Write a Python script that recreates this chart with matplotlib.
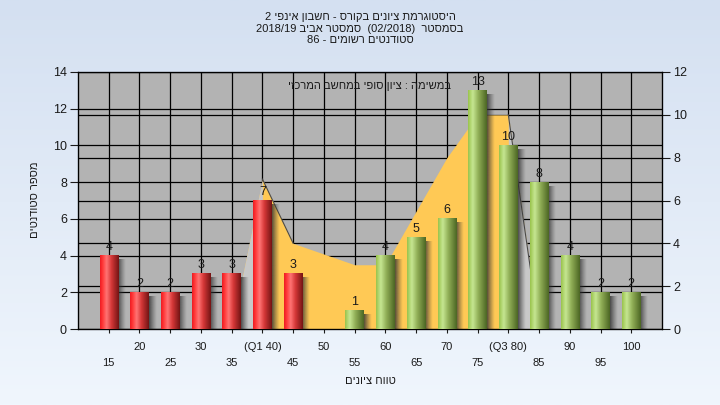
import re
import numpy as np
import matplotlib
matplotlib.use('Agg')
import matplotlib.pyplot as plt
from matplotlib.colors import to_rgb

plt.rcParams['font.family'] = ['Liberation Sans', 'DejaVu Sans']


def heb(s):  # logical hebrew -> visual order for matplotlib
    r = s[::-1]
    r = re.sub(r'[0-9A-Za-z/.]+', lambda m: m.group(0)[::-1], r)
    return r.translate(str.maketrans('()', ')('))


# data
grades = [15, 20, 25, 30, 35, 40, 45, 50, 55, 60, 65, 70, 75, 80, 85, 90, 95, 100]
tick_labels = ['15', '20', '25', '30', '35', '(Q1 40)', '45', '50', '55', '60',
               '65', '70', '75', '(Q3 80)', '85', '90', '95', '100']
counts = [4, 2, 2, 3, 3, 7, 3, 0, 1, 4, 5, 6, 13, 10, 8, 4, 2, 2]
final_vals = [0, 0, 0, 0, 0, 7, 4, 3.5, 3, 3, 5.5, 8, 10, 10, 0, 0, 0, 0]

title_lines = ['היסטוגרמת ציונים בקורס - חשבון אינפי 2',
               'בסמסטר  (02/2018)  סמסטר אביב 2018/19',
               'סטודנטים רשומים - 86']
legend_text = 'במשימה : ציון סופי במחשב המרכזי'
x_title = 'טווח ציונים'
y_title = 'מספר סטודנטים'


def gradient(stops, n=64):
    pos = [p for p, c in stops]
    cols = np.array([to_rgb(c) for p, c in stops])
    t = np.linspace(0, 1, n)
    img = np.stack([np.interp(t, pos, cols[:, k]) for k in range(3)], axis=-1)
    return img[np.newaxis, :, :]


red_grad = gradient([(0, '#EC1C24'), (0.12, '#FF3434'), (0.35, '#FF7474'),
                     (0.6, '#D63838'), (1, '#741414')])
green_grad = gradient([(0, '#9AC44C'), (0.25, '#C6E692'), (0.55, '#90AE56'),
                       (1, '#4C6624')])
shadow = np.zeros((1, 32, 4))
shadow[0, :, :3] = 0.2
shadow[0, :, 3] = np.linspace(0.85, 0, 32) ** 1.2

fig = plt.figure(figsize=(7.2, 4.05), dpi=100)

bg = fig.add_axes([0, 0, 1, 1], zorder=-10)
top_c, bot_c = np.array(to_rgb('#D4E0F1')), np.array(to_rgb('#F0F6FD'))
bg.imshow(top_c + np.linspace(0, 1, 200)[:, None, None] * (bot_c - top_c),
          aspect='auto', extent=[0, 1, 0, 1])
bg.axis('off')

ax = fig.add_axes([78 / 720, 1 - 329 / 405, 584 / 720, 257 / 405])
ax2 = ax.twinx()
ax.set_zorder(2)
ax2.set_zorder(1)
ax.patch.set_visible(False)
ax2.patch.set_visible(True)
ax2.patch.set_facecolor('#B3B3B3')

x = np.arange(len(grades))

# final grade area (right axis)
ax2.fill_between(x, 0, final_vals, color='#FFC955', lw=0, zorder=1)
ax2.fill_between(x[4:6], 0, final_vals[4:6], color='#C8C8C8', lw=0, zorder=1.1)
ax2.fill_between(x[13:15], 0, final_vals[13:15], color='#C8C8C8', lw=0, zorder=1.1)
ax2.plot(x[5:7], final_vals[5:7], color='#4A4A4A', lw=0.8, zorder=1.2)
ax2.plot(x[13:15], final_vals[13:15], color='#4A4A4A', lw=0.8, zorder=1.2)

# grid behind the area
ax2.set_axisbelow(True)
ax2.set_ylim(0, 12)
ax2.set_yticks(range(0, 13, 2))
ax2.set_yticks(np.arange(0, 15, 2) * 12 / 14, minor=True)
ax2.grid(True, axis='y', which='both', color='black', lw=0.9)
ax2.xaxis.set_visible(True)
ax2.grid(True, axis='x', which='major', color='black', lw=0.9)
ax2.tick_params(axis='x', which='both', bottom=False, top=False,
                labelbottom=False, labeltop=False)
ax2.tick_params(axis='y', which='minor', length=0)
ax2.tick_params(axis='y', which='major', direction='out', length=6, width=0.8,
                labelsize=9, pad=2, colors='#1A1A1A')

# bars
w = 0.6
for xi, c, g in zip(x, counts, grades):
    if c == 0:
        continue
    ax.imshow(shadow, extent=(xi + w / 2, xi + w / 2 + 0.26, 0, c - 0.22),
              aspect='auto', zorder=2.5, interpolation='bilinear')
    ax.imshow(red_grad if g < 50 else green_grad,
              extent=(xi - w / 2, xi + w / 2, 0, c), aspect='auto',
              zorder=3, interpolation='bilinear')
    ax.annotate(str(c), (xi, c), xytext=(0, 4), textcoords='offset points',
                ha='center', va='baseline', fontsize=9, color='#1A1A1A', zorder=4)

ax.set_xlim(-1, len(grades))
ax.set_ylim(0, 14)
ax.set_yticks(range(0, 15, 2))
ax.tick_params(axis='y', direction='out', length=6, width=0.8, labelsize=9,
               pad=2, colors='#1A1A1A')

ax.xaxis.remove_overlapping_locs = False
ax.set_xticks(x, [lab if i % 2 else '' for i, lab in enumerate(tick_labels)])
ax.set_xticks(x[0::2], tick_labels[0::2], minor=True)
ax.tick_params(axis='x', which='major', direction='out', length=3, width=0.8,
               labelsize=8, pad=6, colors='#1A1A1A')
ax.tick_params(axis='x', which='minor', length=0, labelsize=8, pad=21,
               colors='#1A1A1A')

for sp in ax.spines.values():
    sp.set_color('black')
    sp.set_linewidth(0.9)

ax.text(0.5, 0.945, heb(legend_text), transform=ax.transAxes, ha='center',
        va='center', fontsize=8, color='#1A1A1A', zorder=5)

for i, line in enumerate(title_lines):
    fig.text(0.5, 1 - (17 + 11.5 * i) / 405, heb(line), ha='center',
             va='center', fontsize=8, color='#1A1A1A')

fig.text(370 / 720, 1 - 381 / 405, heb(x_title), ha='center', va='center',
         fontsize=8, color='#1A1A1A')
fig.text(35 / 720, 1 - 200 / 405, heb(y_title), ha='center', va='center',
         rotation=90, fontsize=8, color='#1A1A1A')

fig.savefig('out.png', dpi=100)
